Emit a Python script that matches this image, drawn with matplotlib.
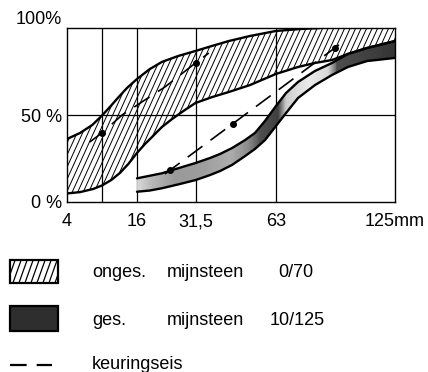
import numpy as np
import matplotlib.pyplot as plt
from matplotlib.collections import LineCollection
from matplotlib.patches import Rectangle

plt.rcParams['font.family'] = ['Liberation Sans', 'DejaVu Sans']
plt.rcParams['font.size'] = 13

# -- sieve axis --
sieve_mm = [4, 8, 16, 31.5, 63, 125]
sieve_pos = [0, 35, 70, 128.5, 209, 328]   # spacing of the sieves along the axis
x_ticks = [4, 16, 31.5, 63, 125]
x_labels = ['4', '16', '31,5', '63', '125mm']
y_ticks = [0, 50, 100]
y_labels = ['0 %', '50 %', '100%']

# -- onges. mijnsteen 0/70 (envelope, % passing) --
onges_hi_mm = [4, 5.5, 6.9, 8, 9.8, 11.8, 13.7, 16, 19.4, 22.6, 26.9, 31.5, 38, 44.5,
               52.8, 63, 75.5, 86, 125]
onges_hi = [36.2, 39.7, 44.3, 49.7, 54.6, 60.3, 65.5, 70.7, 76.4, 80.5, 83.9, 86.8, 89.7,
            92.5, 95.4, 98.3, 99.4, 100, 100]
onges_lo_mm = [4, 5.5, 7, 8, 10.1, 12.1, 14, 16, 18.1, 20, 22.6, 25.3, 28.7, 31.5, 38,
               44.5, 52.8, 63, 74.5, 83.3, 92.2, 100.5, 110.4, 125]
onges_lo = [4.9, 5.7, 7.5, 9.5, 12.6, 16.7, 21.8, 28.2, 33.3, 37.4, 43.1, 47.7, 52.9, 56.9,
            60.3, 63.2, 67.2, 73.6, 77.6, 79.9, 81.6, 85.1, 88.5, 92.5]

# -- ges. mijnsteen 10/125 --
ges_hi_mm = [16, 22.6, 26.9, 31.5, 37.2, 41.1, 45.8, 50.9, 54.8, 58.7, 63, 68.2, 74.5,
             83.3, 92.2, 100.5, 110.4, 125]
ges_hi = [13.6, 16.5, 19.4, 22.4, 25.3, 27.6, 31.0, 35.6, 39.7, 46.6, 55.2, 62.6, 69.0,
          75.3, 79.9, 85.1, 88.5, 92.5]
ges_lo_mm = [16, 19.4, 22.6, 26.9, 31.5, 37.2, 41.1, 45.8, 50.9, 54.8, 58.7, 63, 68.2,
             74.5, 83.3, 92.2, 100.5, 110.4, 125]
ges_lo = [5.9, 6.6, 7.9, 10.1, 12.6, 15.5, 17.8, 21.3, 26.4, 30.5, 35.6, 43.7, 51.1,
          59.8, 67.2, 73.0, 77.6, 81.0, 82.8]
# grey level of the print inside the ges. band (1 = white)
ges_shade_mm = [16, 20, 26, 35, 45, 52, 57, 64, 68, 80, 90, 95, 125]
ges_shade = [0.85, 0.72, 0.6, 0.62, 0.68, 0.55, 0.3, 0.25, 0.8, 0.92, 0.85, 0.3, 0.2]

# -- keuringseis (dashed) --
keur1_mm = [6.6, 8, 12.6, 17.3, 23.4, 31.5, 36.7]
keur1 = [34.5, 39.7, 50, 57.5, 66.1, 79.9, 85.6]
keur2_mm = [23.4, 24.7, 31.5, 46.2, 63, 93.7, 100]
keur2 = [16.1, 18.2, 29.1, 45.1, 63.4, 88.6, 93.7]

legend_rows = [['onges.', 'mijnsteen', '0/70'],
               ['ges.', 'mijnsteen', '10/125'],
               ['keuringseis']]


def hatch(ax, clip, step=5.5, slope=2.2, lw=0.7, z=3):
    # steep diagonal hatching in figure pixels, clipped to a patch
    fig = ax.figure
    W, H = fig.bbox.width, fig.bbox.height
    dx = H / slope
    segs = [[(s / W, 0), ((s + dx) / W, 1)] for s in np.arange(-dx, W, step)]
    lc = LineCollection(segs, colors='black', linewidths=lw,
                        transform=fig.transFigure, zorder=z)
    ax.add_collection(lc, autolim=False)
    lc.set_clip_path(clip)
    return lc


def main():
    fig = plt.figure(figsize=(4.28, 3.72), dpi=100)
    ax = fig.add_axes([67 / 428, 170 / 372, 328 / 428, 174 / 372])

    fwd = lambda v: np.interp(v, sieve_mm, sieve_pos)
    inv = lambda p: np.interp(p, sieve_pos, sieve_mm)
    ax.set_xscale('function', functions=(fwd, inv))
    ax.set_xlim(4, 125)
    ax.set_ylim(0, 100)

    # grid
    for v in sieve_mm[1:-1]:
        ax.axvline(v, color='black', lw=0.9, zorder=1)
    ax.axhline(50, color='black', lw=0.9, zorder=1)

    # ges. band, shaded
    band = ax.fill(ges_hi_mm + ges_lo_mm[::-1], ges_hi + ges_lo[::-1],
                   facecolor='none', edgecolor='none')[0]
    edges = np.linspace(16, 125, 219)
    for a, b in zip(edges[:-1], edges[1:]):
        g = str(np.interp((a + b) / 2, ges_shade_mm, ges_shade))
        span = ax.axvspan(a, b, facecolor=g, edgecolor=g, lw=0.6, zorder=2)
        span.set_clip_path(band)

    # onges. band, hatched
    env = ax.fill(onges_hi_mm + onges_lo_mm[::-1], onges_hi + onges_lo[::-1],
                  facecolor='none', edgecolor='none')[0]
    hatch(ax, env)

    # band edges
    k = onges_hi.index(100) + 1
    line_kw = dict(color='black', lw=1.7, zorder=4, solid_capstyle='round',
                   solid_joinstyle='round')
    ax.plot(onges_hi_mm[:k], onges_hi[:k], **line_kw)
    ax.plot(onges_lo_mm, onges_lo, **line_kw)
    ax.plot(ges_hi_mm, ges_hi, **line_kw)
    ax.plot(ges_lo_mm, ges_lo, **line_kw)

    # keuringseis
    dash_kw = dict(color='black', lw=1.2, dashes=(11, 6), marker='o',
                   markersize=4, zorder=5)
    ax.plot(keur1_mm, keur1, markevery=[1, 5], **dash_kw)
    ax.plot(keur2_mm, keur2, markevery=[1, 3, 5], **dash_kw)

    ax.set_xticks(x_ticks, labels=x_labels)
    ax.set_yticks(y_ticks, labels=y_labels)
    ax.minorticks_off()
    ax.tick_params(axis='x', length=0, pad=8)
    ax.tick_params(axis='y', length=0, pad=3.6)
    ylab = ax.get_yticklabels()
    ylab[-1].set_va('bottom')
    for s in ax.spines.values():
        s.set_linewidth(1.0)
        s.set_zorder(6)

    # -- legend block --
    lg = fig.add_axes([0, 0, 1, 132 / 372])
    lg.set_xlim(0, 428)
    lg.set_ylim(372, 240)
    lg.axis('off')

    sw1 = Rectangle((10, 260), 48, 23, facecolor='white', edgecolor='black', lw=1.6)
    lg.add_patch(sw1)
    hatch(lg, sw1, step=6, slope=2.8, lw=0.9)
    sw2 = Rectangle((10, 306), 48, 25, facecolor='#2e2e2e', edgecolor='black', lw=1.6)
    lg.add_patch(sw2)
    lg.plot([10, 52], [365, 365], color='black', lw=1.6, dashes=(7.5, 4.5))

    cols = [[92, 167, 278], [92, 167, 270], [92]]
    rows_y = [277, 325, 369]
    for words, xs, yb in zip(legend_rows, cols, rows_y):
        for w, xx in zip(words, xs):
            lg.text(xx, yb, w, va='baseline', ha='left')

    fig.savefig('out.png', dpi=100)


if __name__ == "__main__":
    main()
